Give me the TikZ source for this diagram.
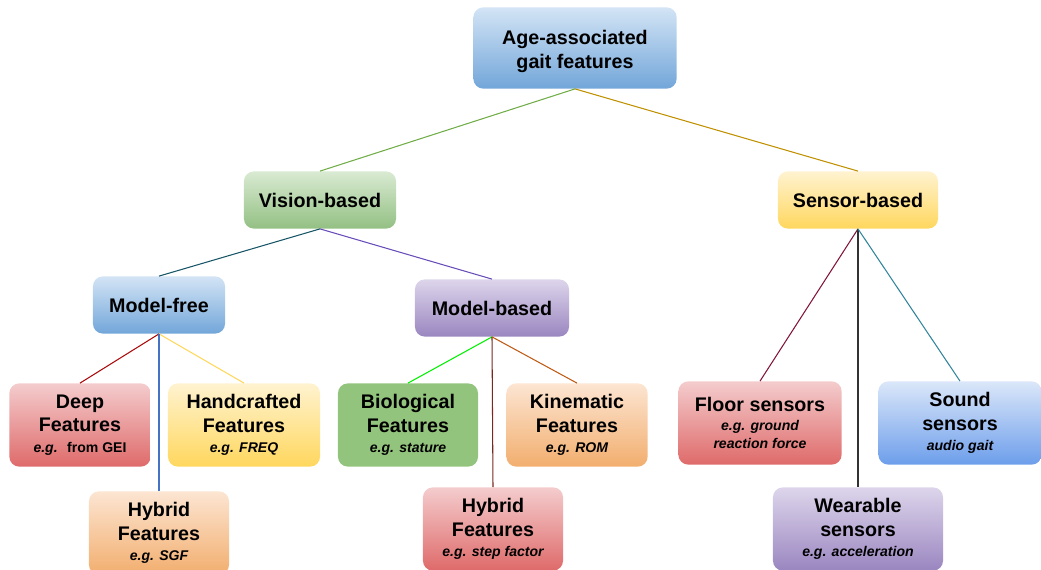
\documentclass[tikz,border=0pt]{standalone}
\usepackage{fontspec}
\setmainfont{Liberation Sans}
\usepackage{xcolor}
\definecolor{blue-top}{HTML}{D3E4F5}
\definecolor{blue-bot}{HTML}{72A6D9}
\definecolor{green-top}{HTML}{D9EAD2}
\definecolor{green-bot}{HTML}{93C083}
\definecolor{green-flat}{HTML}{93C47D}
\definecolor{yellow-top}{HTML}{FFF3D0}
\definecolor{yellow-bot}{HTML}{FFD75E}
\definecolor{red-top}{HTML}{F4CCCD}
\definecolor{red-bot}{HTML}{DF6A6A}
\definecolor{orange-top}{HTML}{FCE5D2}
\definecolor{orange-bot}{HTML}{F2AE6E}
\definecolor{purple-top}{HTML}{DDD5EB}
\definecolor{purple-bot}{HTML}{9A86C0}
\definecolor{sky-top}{HTML}{DBE7F9}
\definecolor{sky-bot}{HTML}{6D9EEB}
\tikzset{
    gait-box/.style = {rectangle, rounded corners=7pt, align=center, inner sep=2pt,
        font=\fontsize{14}{16.5}\selectfont\bfseries},
    blue-box/.style = {gait-box, top color=blue-top, bottom color=blue-bot},
    green-box/.style = {gait-box, top color=green-top, bottom color=green-bot},
    yellow-box/.style = {gait-box, top color=yellow-top, bottom color=yellow-bot},
    red-box/.style = {gait-box, top color=red-top, bottom color=red-bot},
    orange-box/.style = {gait-box, top color=orange-top, bottom color=orange-bot},
    purple-box/.style = {gait-box, top color=purple-top, bottom color=purple-bot},
    sky-box/.style = {gait-box, top color=sky-top, bottom color=sky-bot},
    mid-size/.style = {minimum height=1.43cm},
    leaf-size/.style = {minimum height=2.08cm, execute at begin node=\rule{0pt}{21pt}},
    gait-link/.style = {line width=0.75pt},
}
\newcommand{\egnote}[1]{{\fontsize{10}{12}\selectfont\itshape #1}}

\begin{document}
\begin{tikzpicture}[x=0.025cm, y=-0.025cm]
\useasboundingbox (0,0) rectangle (1041,570);

% root and main branches
\node [blue-box, minimum width=5.08cm, minimum height=2.03cm] (root) at (575,48) {\rule{0pt}{15pt}Age-associated\\gait features};
\node [green-box, mid-size, minimum width=3.8cm] (vision) at (320,200) {Vision-based};
\node [yellow-box, mid-size, minimum width=4.0cm] (sensor) at (858,200) {Sensor-based};
\node [blue-box, mid-size, minimum width=3.3cm] (free) at (159,305) {Model-free};
\node [purple-box, mid-size, minimum width=3.85cm] (based) at (492,308) {Model-based};

% model-free leaves
\node [red-box, leaf-size, minimum width=3.53cm] (deep) at (80,425) {Deep\\Features\\[-2pt]\egnote{e.g.}~\egnote{\upshape\ from GEI}};
\node [yellow-box, leaf-size, minimum width=3.8cm] (hand) at (244,425) {Handcrafted\\Features\\[-2pt]\egnote{e.g. FREQ}};
\node [orange-box, leaf-size, minimum width=3.5cm] (hybrid-free) at (159,533) {Hybrid\\Features\\[-2pt]\egnote{e.g. SGF}};

% model-based leaves
\node [gait-box, fill=green-flat, leaf-size, minimum width=3.5cm] (bio) at (408,425) {Biological\\Features\\[-2pt]\egnote{e.g. stature}};
\node [orange-box, leaf-size, minimum width=3.53cm] (kine) at (577,425) {Kinematic\\Features\\[-2pt]\egnote{e.g. ROM}};
\node [red-box, leaf-size, minimum width=3.5cm] (hybrid-based) at (493,529) {Hybrid\\Features\\[-2pt]\egnote{e.g. step factor}};

% sensor leaves
\node [red-box, leaf-size, minimum width=4.08cm] (floor) at (760,423) {Floor sensors\\[-3pt]\egnote{e.g. ground}\\[-4pt]\egnote{reaction force}};
\node [sky-box, leaf-size, minimum width=4.08cm] (sound) at (960,423) {Sound\\sensors\\[-2pt]\egnote{audio gait}};
\node [purple-box, leaf-size, minimum width=4.25cm] (wear) at (858,529) {Wearable\\sensors\\[-2pt]\egnote{e.g. acceleration}};

% links
\draw [gait-link, color={rgb,255:red,112;green,173;blue,71}] (root.south) -- (vision.north);
\draw [gait-link, color={rgb,255:red,191;green,144;blue,0}] (root.south) -- (sensor.north);
\draw [gait-link, color={rgb,255:red,23;green,85;blue,102}] (vision.south) -- (free.north);
\draw [gait-link, color={rgb,255:red,104;green,76;blue,184}] (vision.south) -- (based.north);
\draw [gait-link, color={rgb,255:red,170;green,10;blue,10}] (free.south) -- (deep.north);
\draw [gait-link, color={rgb,255:red,255;green,215;blue,90}] (free.south) -- (hand.north);
\draw [gait-link, color={rgb,255:red,68;green,114;blue,196}] (free.south) -- (hybrid-free.north);
\draw [gait-link, color={rgb,255:red,0;green,240;blue,0}] (based.south) -- (bio.north);
\draw [gait-link, color={rgb,255:red,120;green,40;blue,30}] (based.south) -- (hybrid-based.north);
\draw [gait-link, color={rgb,255:red,190;green,90;blue,20}] (based.south) -- (kine.north);
\draw [gait-link, color={rgb,255:red,130;green,20;blue,60}] (sensor.south) -- (floor.north);
\draw [gait-link, color={rgb,255:red,50;green,50;blue,50}] (sensor.south) -- (wear.north);
\draw [gait-link, color={rgb,255:red,49;green,132;blue,155}] (sensor.south) -- (sound.north);
\end{tikzpicture}
\end{document}
